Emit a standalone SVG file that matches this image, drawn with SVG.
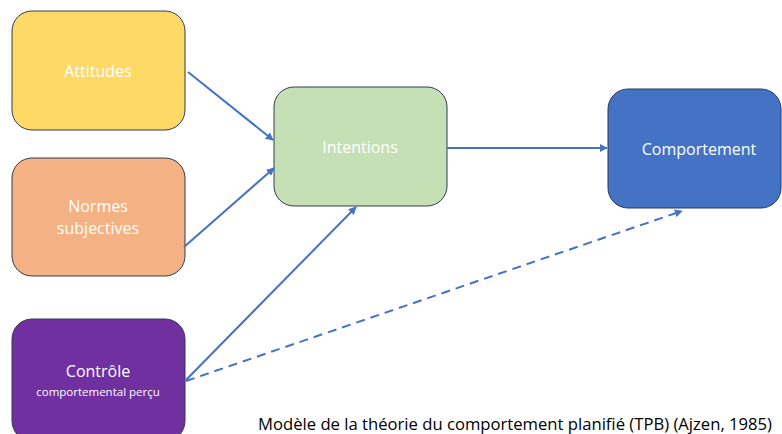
<svg xmlns="http://www.w3.org/2000/svg" width="782" height="434" viewBox="0 0 782 434">
<defs>
<marker id="ah" viewBox="0 0 10 10" refX="9" refY="5" markerWidth="4" markerHeight="4" orient="auto" markerUnits="strokeWidth">
<path d="M0,0 L10,5 L0,10 Z" fill="#4472C4"/>
</marker>
<style>
.box{stroke:#2F3B55;stroke-width:1}
.lbl{font-family:"Open Sans","Liberation Sans",sans-serif;fill:#FFFFFF;text-anchor:middle;dominant-baseline:central}
.edge{stroke:#4472C4;stroke-width:2;fill:none;marker-end:url(#ah)}
.dash{stroke-dasharray:9,6}
</style>
</defs>
<rect width="782" height="434" fill="#FFFFFF"/>
<g id="attitudes">
<rect class="box" x="12" y="11" width="173" height="119" rx="20" fill="#FFD966"/>
<text class="lbl" x="98" y="71" font-size="16">Attitudes</text>
</g>
<g id="normes">
<rect class="box" x="12" y="158" width="173" height="118" rx="20" fill="#F4B183"/>
<text class="lbl" x="98" y="206" font-size="16">Normes</text>
<text class="lbl" x="98" y="228" font-size="16">subjectives</text>
</g>
<g id="controle">
<rect class="box" x="12" y="319" width="173" height="122" rx="20" fill="#7030A0"/>
<text class="lbl" x="98" y="371" font-size="16">Contrôle</text>
<text class="lbl" x="98" y="391" font-size="11.5">comportemental perçu</text>
</g>
<g id="intentions">
<rect class="box" x="274" y="87" width="173" height="119" rx="20" fill="#C5E0B4"/>
<text class="lbl" x="360" y="147" font-size="16">Intentions</text>
</g>
<g id="comportement">
<rect class="box" x="608" y="89" width="173" height="119" rx="20" fill="#4472C4"/>
<text class="lbl" x="699" y="149" font-size="16">Comportement</text>
</g>
<g id="connectors">
<line class="edge" x1="188" y1="72" x2="273" y2="140"/>
<line class="edge" x1="184" y1="247" x2="274" y2="168"/>
<line class="edge" x1="186" y1="380" x2="356" y2="207"/>
<line class="edge" x1="447" y1="148" x2="607" y2="148"/>
<line class="edge dash" x1="186" y1="381" x2="682" y2="211"/>
</g>
<text x="258" y="430" font-family="'Open Sans','Liberation Sans',sans-serif" font-size="16" fill="#000000" textLength="514" lengthAdjust="spacingAndGlyphs">Modèle de la théorie du comportement planifié (TPB) (Ajzen, 1985)</text>
</svg>
